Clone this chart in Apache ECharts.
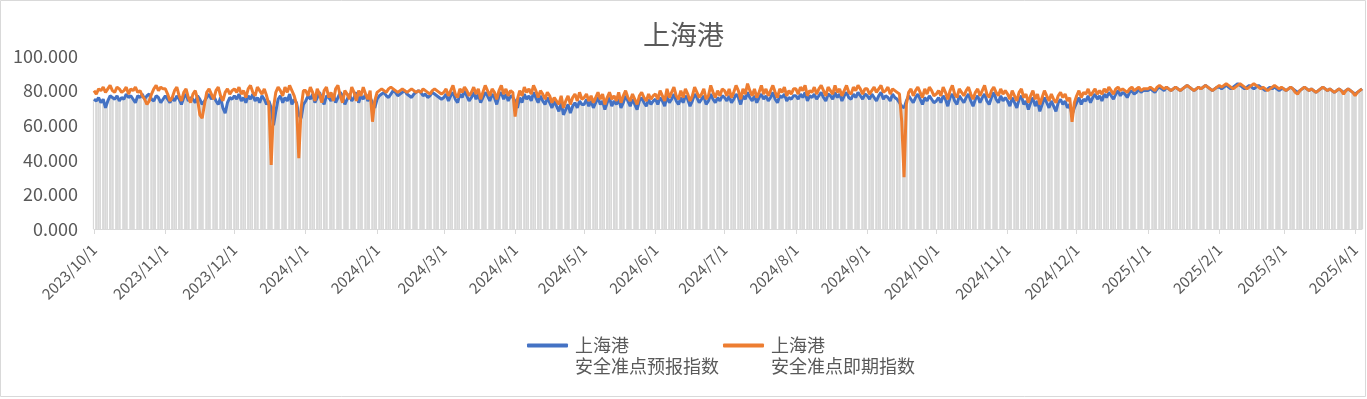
<!DOCTYPE html>
<html>
<head>
<meta charset="utf-8">
<script src="https://cdn.jsdelivr.net/npm/echarts@6/dist/echarts.min.js"></script>
<style>html,body{margin:0;padding:0;background:#fff;}#c{width:1367px;height:399px;}</style>
</head>
<body>
<div id="c"></div>
<script>
// Start date of the daily category axis
const startDate = [2023, 10, 1];
const yTicks = [0, 20, 40, 60, 80, 100];
const titleText = '上海港';
const nameForecast = '上海港\n安全准点预报指数';
const nameImmediate = '上海港\n安全准点即期指数';

// 安全准点预报指数 (blue), one row per month
const forecast = [].concat(
  [75,74,76,73,75,70,74,77,76,75,77,74,76,75,78,76,77,75,73,77,76,78,75,77,78,75,74,77,76,73,75],
  [77,75,73,76,74,77,75,72,76,78,74,76,75,73,77,75,72,74,76,78,75,77,74,72,76,70,67,73,76,75],
  [77,75,78,74,76,73,77,75,78,74,76,73,77,75,72,74,70,60,68,75,77,73,76,74,78,72,75,73,66,64,72],
  [74,77,75,78,73,76,79,75,72,77,76,74,78,73,76,79,77,72,75,78,74,76,79,73,77,75,78,74,76,73,70],
  [75,77,78,79,77,76,78,80,79,77,78,79,80,78,77,76,78,79,80,79,77,78,76,77,79,78,77,76,75],
  [76,78,74,77,79,75,73,78,76,80,77,74,76,79,75,78,73,76,79,77,74,78,76,72,77,79,75,78,74,77,76],
  [74,70,76,73,78,75,77,74,79,76,73,77,74,72,76,73,70,74,71,68,73,66,69,72,67,71,73,70,74,72],
  [72,75,71,74,70,73,76,72,74,69,73,76,71,74,72,75,70,73,77,74,71,75,72,69,74,76,73,71,75,72,74],
  [75,72,76,74,71,77,73,75,78,74,72,76,73,77,75,71,74,78,76,73,75,77,72,74,78,75,73,76,74,77],
  [76,74,77,73,75,78,76,72,77,75,79,76,74,77,73,76,78,75,77,74,76,79,75,73,77,76,78,74,76,75,77],
  [77,75,78,76,79,74,77,76,78,75,77,79,76,74,78,77,75,79,76,78,74,77,79,76,75,78,76,79,77,75,78],
  [77,75,78,76,74,77,79,75,77,76,74,78,76,75,73,71,70,74,77,75,73,76,78,75,72,76,74,77,75,73],
  [74,76,73,77,75,71,76,78,74,72,77,75,73,76,78,74,71,75,77,73,76,78,74,72,76,79,75,73,77,74,76],
  [74,71,76,73,70,75,77,72,74,69,73,76,71,74,68,72,76,73,70,74,71,68,73,75,72,74,70,72,66,70],
  [73,76,72,75,74,77,73,76,78,75,77,74,78,76,79,77,75,78,80,77,79,78,76,79,80,78,79,81,79,80,80],
  [80,81,80,79,81,82,81,80,82,81,80,81,82,81,80,81,82,83,82,81,80,81,82,81,82,83,82,81,80,81,82],
  [82,81,82,83,82,81,82,83,84,83,82,81,82,83,82,81,82,83,82,81,80,81,82,81,82,81,80,81],
  [81,80,81,82,81,80,79,80,81,82,81,80,81,80,79,80,81,82,81,80,81,80,79,80,81,80,79,80,81,80,79],
  [78,79,80,81]
);

// 安全准点即期指数 (orange), one row per month
const immediate = [].concat(
  [80,78,81,80,82,79,81,83,80,79,82,81,79,80,82,78,81,80,82,79,80,77,75,72,74,78,81,83,80,82,81],
  [81,78,74,76,80,82,77,74,79,81,76,73,78,80,75,66,64,72,79,81,78,75,80,82,77,74,79,81,78,80],
  [81,79,82,78,80,76,81,83,79,77,82,80,78,81,77,72,37,70,79,82,80,77,82,79,83,80,77,72,41,70,80],
  [80,77,82,79,74,81,78,73,80,82,76,79,74,81,83,77,73,80,78,75,82,79,74,80,77,82,78,75,80,62,74],
  [79,80,81,80,79,81,82,81,80,79,80,81,80,79,80,81,80,79,80,79,81,80,79,78,80,81,80,79,78],
  [79,81,77,80,83,78,76,81,79,82,80,77,79,82,78,81,75,79,83,80,77,81,79,75,80,83,78,81,77,80,79],
  [65,75,80,77,82,79,81,78,83,80,76,80,78,75,79,77,73,76,74,72,77,70,74,77,72,76,78,74,79,75],
  [76,78,74,77,73,76,79,75,78,72,76,79,75,77,74,79,73,77,80,76,74,78,75,72,77,79,76,74,78,75,77],
  [78,75,80,77,74,81,76,79,82,77,75,80,76,81,78,74,77,82,79,76,78,81,75,77,83,79,76,80,77,81],
  [80,77,81,76,79,83,80,75,81,78,84,80,77,81,76,79,83,78,81,77,80,83,79,76,81,79,82,77,80,78,81],
  [81,78,82,80,83,77,80,79,82,78,81,83,80,77,82,80,78,83,79,81,77,80,83,79,78,82,80,83,81,78,81],
  [81,78,80,82,79,81,83,79,80,82,78,81,80,79,78,62,30,72,79,81,77,80,82,79,76,81,78,82,80,77],
  [78,80,77,82,79,75,80,83,78,76,81,79,77,80,82,78,75,79,81,77,80,83,78,76,80,82,79,77,81,78,80],
  [78,75,80,77,74,79,81,76,78,73,77,80,75,78,72,76,80,77,74,78,75,73,77,79,76,78,74,76,62,73],
  [77,80,76,79,78,81,77,79,81,78,80,78,81,79,82,80,78,81,82,80,81,80,79,81,82,80,81,82,80,81,81],
  [81,82,81,80,82,83,82,81,82,81,80,81,82,81,80,81,82,83,82,81,80,81,82,81,82,83,82,81,80,81,82],
  [83,82,83,84,83,82,81,82,83,84,83,82,81,82,83,84,83,82,81,82,81,80,81,82,83,82,81,82],
  [81,80,81,82,81,79,78,80,81,82,81,80,81,80,79,80,81,82,81,80,81,80,79,80,81,80,78,80,81,80,79],
  [77,79,80,81]
);

// Daily category labels
const dates = [];
for (let i = 0; i < forecast.length; i++) {
  const d = new Date(Date.UTC(startDate[0], startDate[1] - 1, startDate[2] + i));
  dates.push(d.getUTCFullYear() + '/' + (d.getUTCMonth() + 1) + '/' + d.getUTCDate());
}
const isMonthStart = (idx) => dates[idx].endsWith('/1');

const FONT = '"Noto Sans CJK SC", "Noto Sans", sans-serif';
const TXT = '#595959';

const chart = echarts.init(document.getElementById('c'), null, {renderer: 'canvas'});
chart.setOption({
  animation: false,
  backgroundColor: '#fff',
  textStyle: {fontFamily: FONT},
  title: {
    text: titleText, left: 'center', top: 16,
    textStyle: {fontFamily: FONT, fontSize: 27, fontWeight: 'normal', color: TXT}
  },
  graphic: [{
    type: 'rect', shape: {x: 0.5, y: 0.5, width: 1365, height: 396},
    style: {fill: 'none', stroke: '#d9d9d9', lineWidth: 1}, silent: true, z: -1
  }],
  legend: {
    data: [nameForecast, nameImmediate],
    left: 527, top: 314, padding: 0,
    itemWidth: 41, itemHeight: 4, itemGap: 4,
    icon: 'roundRect',
    formatter: (name) => ' \n' + name,
    textStyle: {fontFamily: FONT, fontSize: 18, color: TXT, lineHeight: 21, padding: [0, 0, 0, 2]}
  },
  grid: {left: 94, right: 5, top: 56, bottom: 170, containLabel: false},
  xAxis: {
    type: 'category', data: dates, boundaryGap: false, z: 3,
    axisLine: {lineStyle: {color: '#d9d9d9', width: 1}},
    axisTick: {show: true, length: 5, interval: isMonthStart, lineStyle: {color: '#d9d9d9'}},
    splitLine: {show: true, interval: 2, lineStyle: {color: '#ffffff', width: 1}},
    axisLabel: {
      interval: isMonthStart, rotate: 45, fontFamily: FONT, fontSize: 15, color: TXT, margin: 18
    }
  },
  yAxis: {
    type: 'value', min: yTicks[0], max: yTicks[yTicks.length - 1], interval: 20,
    axisLine: {show: false}, axisTick: {show: false}, splitLine: {show: false},
    axisLabel: {formatter: (v) => v.toFixed(3), fontFamily: FONT, fontSize: 18, color: TXT, margin: 16}
  },
  series: [
    {
      name: 'bg', type: 'bar', data: forecast, barCategoryGap: '0%', z: 2,
      itemStyle: {color: '#d9d9d9'}, silent: true
    },
    {
      name: nameForecast, type: 'line', data: forecast, symbol: 'none', z: 5,
      lineStyle: {color: '#4472C4', width: 3}, itemStyle: {color: '#4472C4'}
    },
    {
      name: nameImmediate, type: 'line', data: immediate, symbol: 'none', z: 6,
      lineStyle: {color: '#ED7D31', width: 3}, itemStyle: {color: '#ED7D31'}
    }
  ]
});
</script>
</body>
</html>
